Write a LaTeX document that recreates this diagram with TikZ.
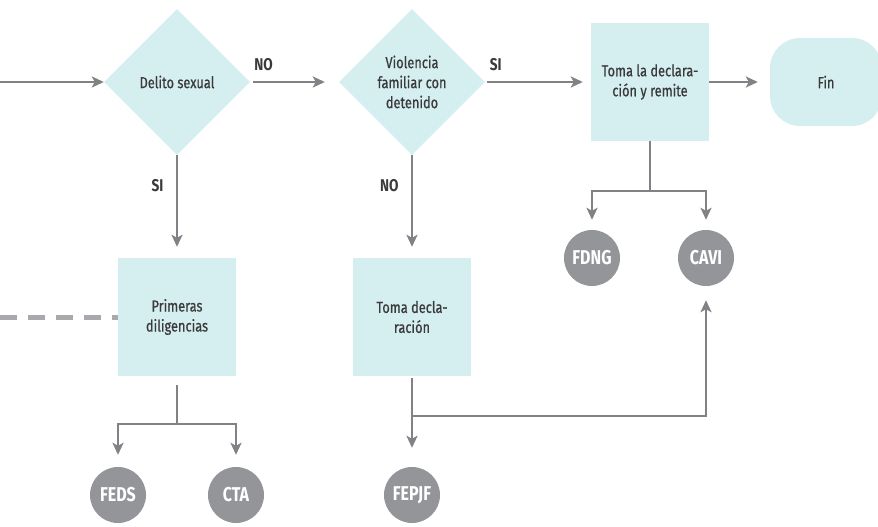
\documentclass[tikz,border=0pt]{standalone}
\usepackage{fontspec}
\setmainfont{Fira Sans}[FakeStretch=0.8, UprightFeatures={FakeBold=0.6}]
\usetikzlibrary{shapes.geometric,arrows.meta}

\definecolor{caja}{HTML}{D5EEF0}
\definecolor{linea}{HTML}{808285}
\definecolor{bola}{HTML}{939598}
\definecolor{texto}{HTML}{3A393B}
\definecolor{guion}{HTML}{A7A9AC}

\begin{document}
\begin{tikzpicture}[x=1pt,y=-1pt,
	font=\fontsize{16}{20}\selectfont,
	paso/.style={rectangle, fill=caja, text=texto, minimum width=118pt, minimum height=118pt, inner sep=2pt, align=center},
	pregunta/.style={diamond, fill=caja, text=texto, minimum width=146pt, minimum height=146pt, inner sep=0pt, align=center},
	final/.style={rectangle, rounded corners=30pt, fill=caja, text=texto, minimum width=112pt, minimum height=88pt},
	sigla/.style={circle, fill=bola, text=white, minimum size=56pt, inner sep=0pt, font=\fontsize{20}{20}\selectfont\bfseries},
	rama/.style={draw=linea, line width=2.5pt},
	flecha/.style={rama, -{Stealth[length=12pt,width=11pt,inset=3pt]}},
	resp/.style={text=texto, font=\fontsize{17}{18}\selectfont\bfseries}
	]

	\useasboundingbox (0,0) rectangle (878,527);

	% pasos y preguntas
	\node[pregunta] (delito) at (177,82) {Delito sexual};
	\node[pregunta] (violencia) at (412,82) {Violencia\\familiar con\\detenido};
	\node[paso] (remite) at (650,82) {Toma la declara-\\ción y remite};
	\node[final] (fin) at (826,82) {Fin};
	\node[paso] (primeras) at (177,317) {Primeras\\diligencias};
	\node[paso] (tomadecl) at (412,317) {Toma decla-\\ración};

	% instancias
	\node[sigla] (fdng) at (592,258) {FDNG};
	\node[sigla] (cavi) at (706,258) {CAVI};
	\node[sigla] (feds) at (118,495) {FEDS};
	\node[sigla] (cta) at (236,495) {CTA};
	\node[sigla] (fepjf) at (412,495) {FEPJF};

	\coordinate (entrada) at (0,82);
	\coordinate (borde) at (0,317);

	% flujo principal
	\draw[flecha] (entrada) -- (delito.west);
	\draw[flecha, shorten <=3pt, shorten >=14pt] (delito.east) -- node[resp, pos=0.15, above=7pt] {NO} (violencia.west);
	\draw[flecha, shorten <=2pt, shorten >=8pt] (violencia.east) -- node[resp, pos=0.1, above=7pt] {SI} (remite.west);
	\draw[flecha, shorten >=12pt] (remite.east) -- (fin.west);
	\draw[flecha, shorten >=11pt] (delito.south) -- node[resp, pos=0.3, left=9pt] {SI} (primeras.north);
	\draw[flecha, shorten >=11pt] (violencia.south) -- node[resp, pos=0.3, left=9pt] {NO} (tomadecl.north);
	\draw[guion, line width=5pt, dash pattern=on 17pt off 11pt] (borde) -- (primeras.west);

	% ramas hacia las instancias
	\draw[rama] (remite.south) -- ++(0,50) coordinate (nudoR);
	\draw[flecha, shorten >=10pt] (nudoR) -| (fdng.north);
	\draw[flecha, shorten >=10pt] (nudoR) -| (cavi.north);

	\draw[rama, shorten <=9pt] (primeras.south) -- ++(0,48) coordinate (nudoP);
	\draw[flecha, shorten >=12pt] (nudoP) -| (feds.north);
	\draw[flecha, shorten >=12pt] (nudoP) -| (cta.north);

	\draw[rama, shorten <=2pt] (tomadecl.south) -- ++(0,40) coordinate (nudoT);
	\draw[flecha, shorten >=19pt] (nudoT) -- (fepjf.north);
	\draw[flecha, shorten >=14pt] (nudoT) -| (cavi.south);
\end{tikzpicture}
\end{document}
